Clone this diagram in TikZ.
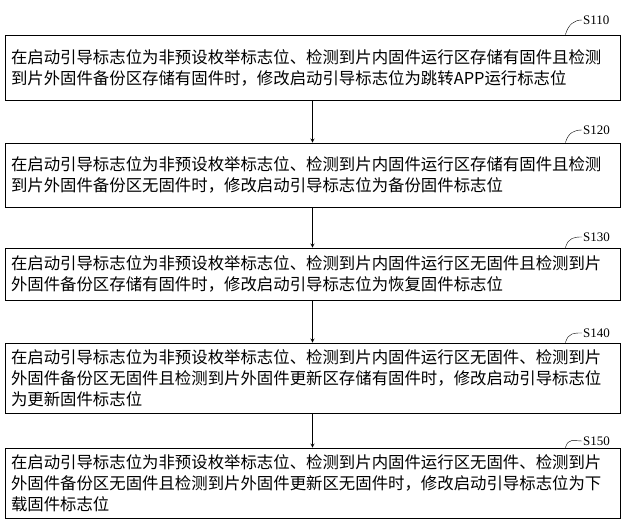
\documentclass[tikz,border=0pt]{standalone}
\usepackage{fontspec}
\setmainfont{Liberation Serif}
\newfontfamily\cjk{Noto Sans CJK SC}
\usetikzlibrary{positioning}
\begin{document}
\begin{tikzpicture}[%
    x=1pt, y=-1pt,
    >=stealth,
    stepbox/.style={%
      draw,
      thick,
      minimum width=615pt,
      text width=603pt,
      align=left,
      inner sep=5pt,
      font=\cjk\fontsize{16.4}{21}\selectfont
    },
    steplabel/.style={%
      font=\fontsize{13}{14}\selectfont,
      inner sep=1pt
    }
  ]
    \useasboundingbox (0,0) rectangle (643,524);
    \node[stepbox, minimum height=65pt] (s110) at (312.5,67.5)  {在启动引导标志位为非预设枚举标志位、检测到片内固件运行区存储有固件且检测\\到片外固件备份区存储有固件时，修改启动引导标志位为跳转APP运行标志位};
    \node[stepbox, minimum height=64pt] (s120) at (312.5,175)   {在启动引导标志位为非预设枚举标志位、检测到片内固件运行区存储有固件且检测\\到片外固件备份区无固件时，修改启动引导标志位为备份固件标志位};
    \node[stepbox, minimum height=52pt] (s130) at (312.5,274)   {在启动引导标志位为非预设枚举标志位、检测到片内固件运行区无固件且检测到片\\外固件备份区存储有固件时，修改启动引导标志位为恢复固件标志位};
    \node[stepbox, minimum height=70pt] (s140) at (312.5,378)   {在启动引导标志位为非预设枚举标志位、检测到片内固件运行区无固件、检测到片\\外固件备份区无固件且检测到片外固件更新区存储有固件时，修改启动引导标志位\\为更新固件标志位};
    \node[stepbox, minimum height=70pt] (s150) at (312.5,483)   {在启动引导标志位为非预设枚举标志位、检测到片内固件运行区无固件、检测到片\\外固件备份区无固件且检测到片外固件更新区无固件时，修改启动引导标志位为下\\载固件标志位};

    % step labels
    \foreach \n/\yy in {110/20, 120/130, 130/237, 140/333, 150/441} {
      \node[steplabel, anchor=west] (l\n) at (582,\yy) {S\n};
      \draw (s\n.north east) ++(-55,0) .. controls +(3,-10) and +(-8,0) .. (l\n.west);
    }

    \path[->, thick] (s110) edge (s120)
                     (s120) edge (s130)
                     (s130) edge (s140)
                     (s140) edge (s150);
  \end{tikzpicture}
\end{document}
